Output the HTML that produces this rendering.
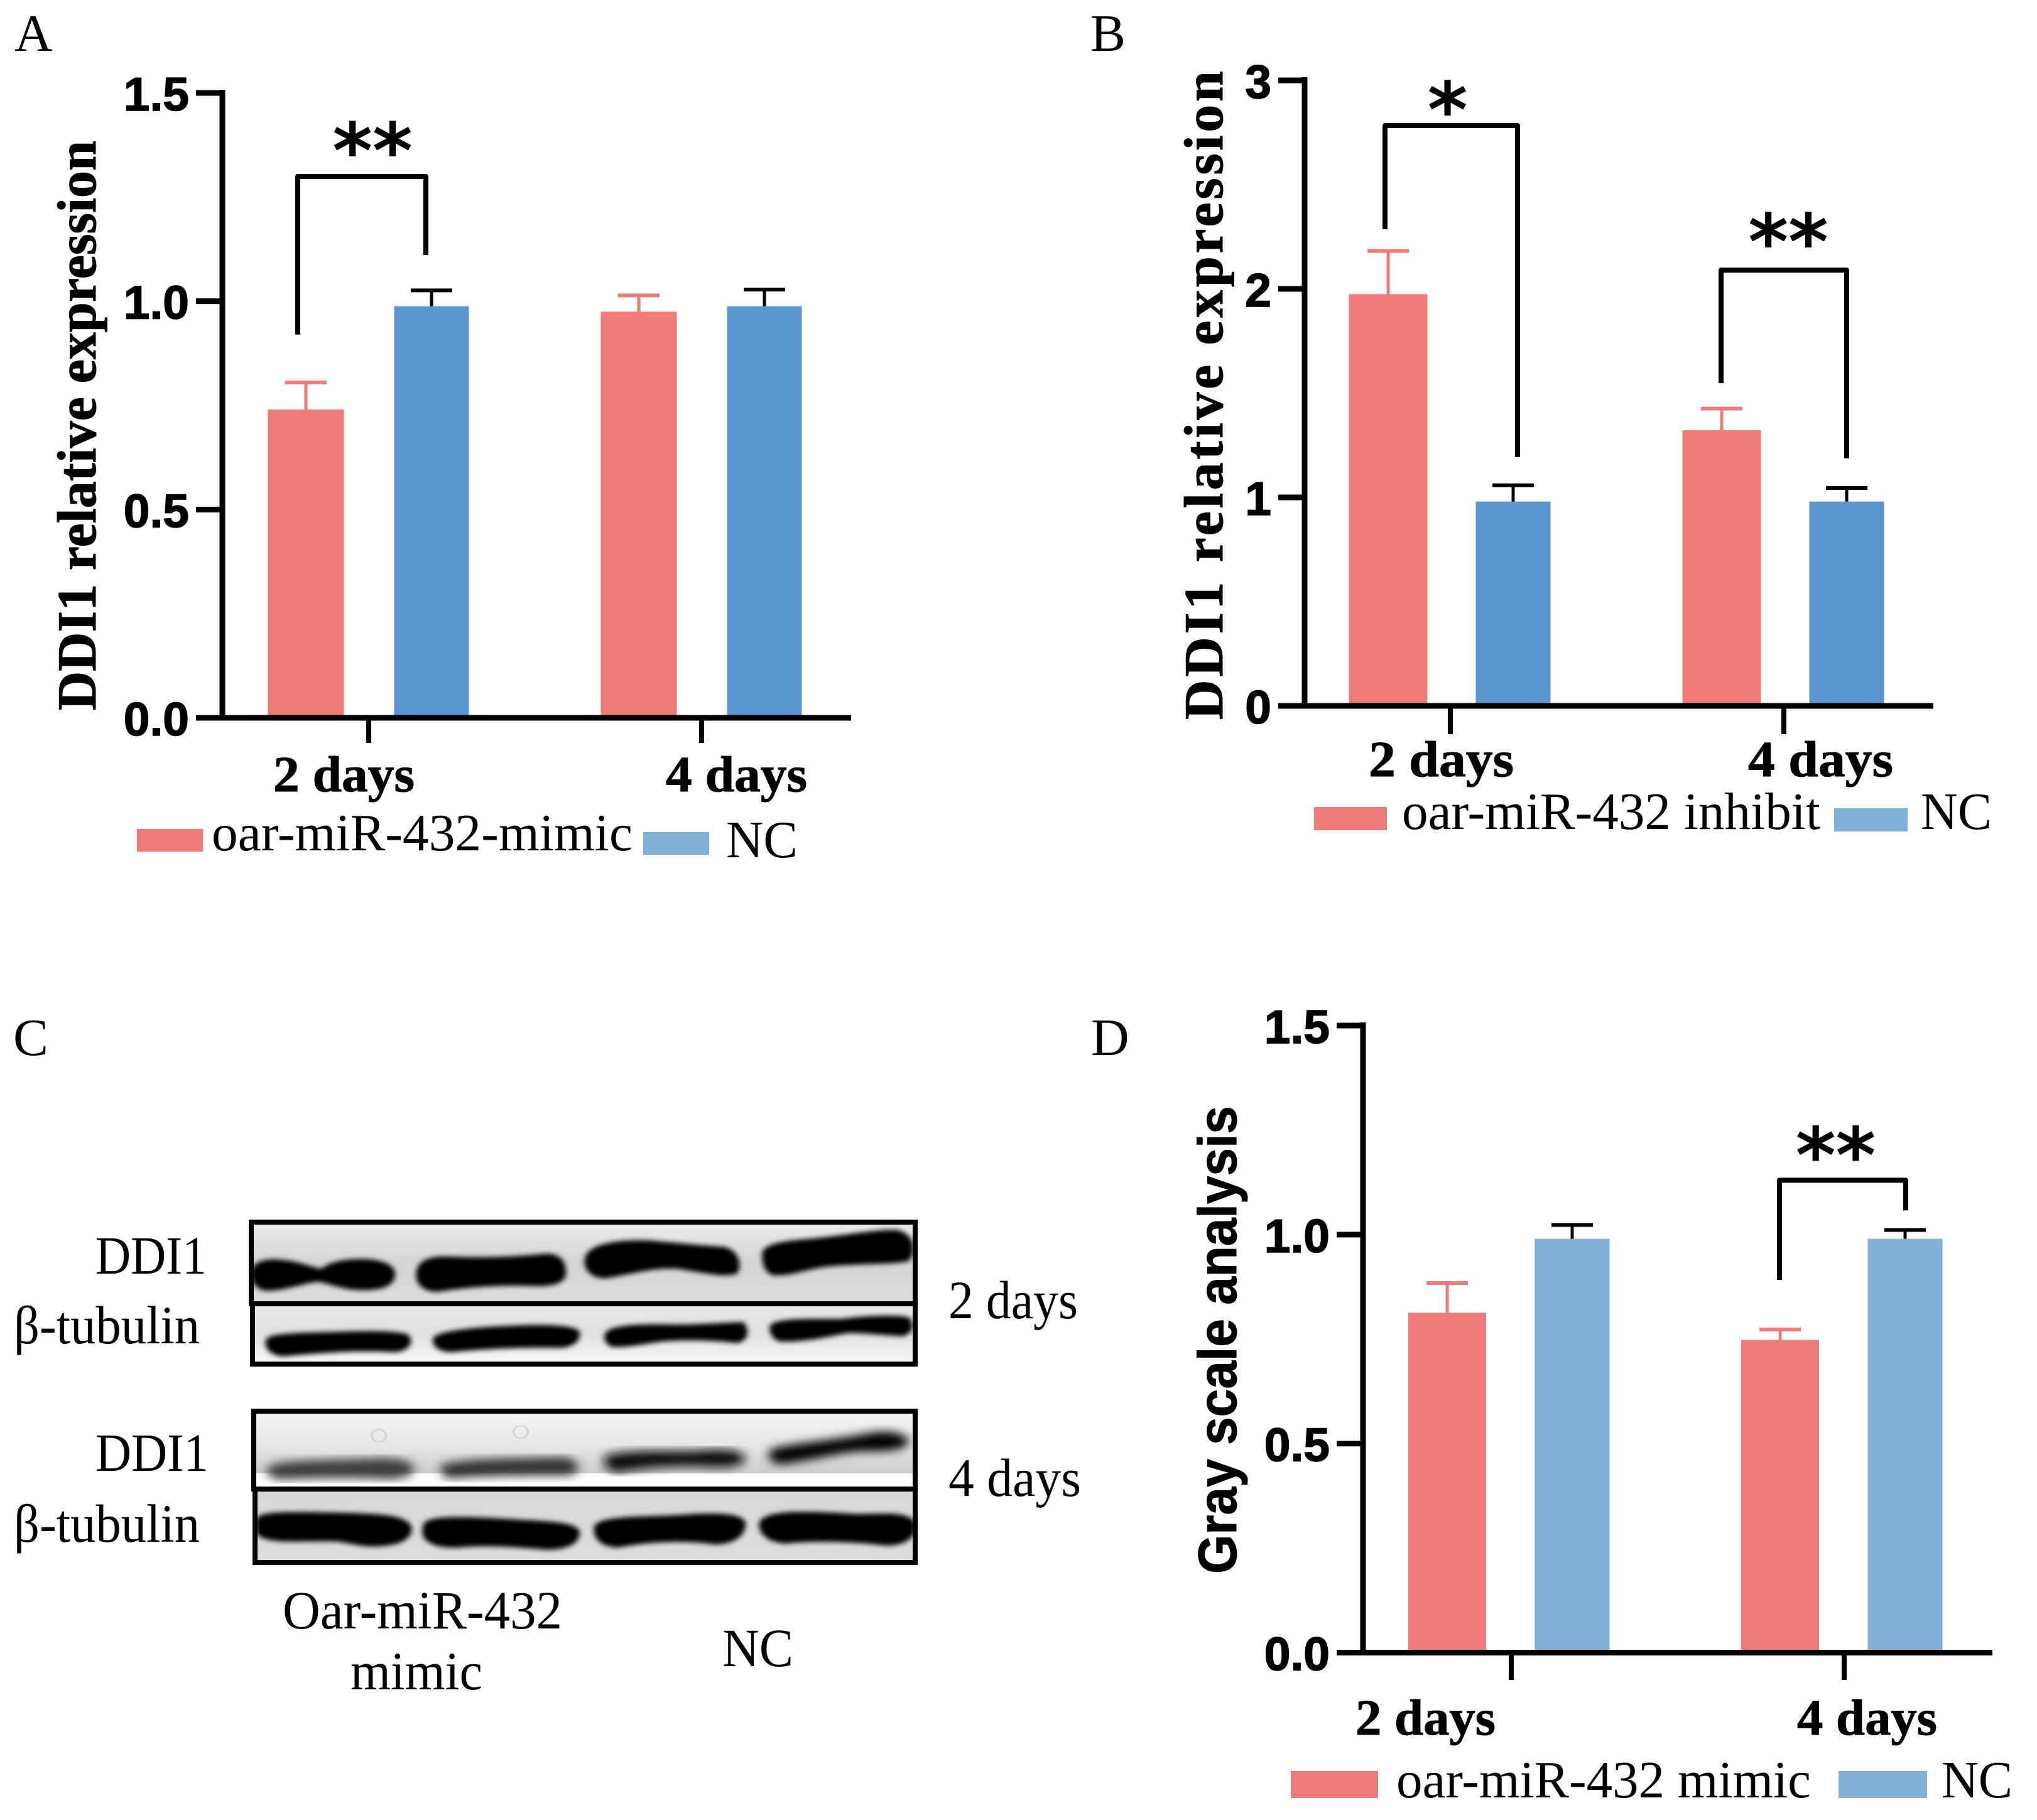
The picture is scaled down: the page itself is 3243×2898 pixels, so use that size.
<!DOCTYPE html>
<html lang="en">
<head>
<meta charset="utf-8">
<title>DDI1 expression figure</title>
<style>
html,body{margin:0;padding:0;background:#fff;}
svg{display:block;}
.serif{font-family:"Liberation Serif","Noto Serif CJK SC",serif;}
.sans{font-family:"Liberation Sans","Noto Sans CJK SC",sans-serif;}
.lab{font-size:86px;fill:#000;}
.leg{font-size:84px;fill:#000;}
.xl{font-family:"Liberation Serif",serif;font-weight:bold;font-size:80px;fill:#000;stroke:#000;stroke-width:1;}
.tit{font-family:"Liberation Serif",serif;font-weight:bold;font-size:88px;fill:#000;stroke:#000;stroke-width:1;}
.pl{font-family:"Liberation Serif",serif;font-size:84px;fill:#000;}
</style>
</head>
<body>
<svg id="figure" xmlns="http://www.w3.org/2000/svg" width="3243" height="2898" viewBox="0 0 3243 2898">
<defs>
<linearGradient id="g1" x1="0" y1="0" x2="0" y2="1"><stop offset="0" stop-color="#ececec"/><stop offset="0.5" stop-color="#d4d4d4"/><stop offset="1" stop-color="#dcdcdc"/></linearGradient>
<linearGradient id="g2" x1="0" y1="0" x2="0" y2="1"><stop offset="0" stop-color="#e8e8e8"/><stop offset="0.5" stop-color="#e0e0e0"/><stop offset="1" stop-color="#f8f8f8"/></linearGradient>
<linearGradient id="g3" x1="0" y1="0" x2="0" y2="1"><stop offset="0" stop-color="#f4f4f4"/><stop offset="0.45" stop-color="#e6e6e6"/><stop offset="0.8" stop-color="#cccccc"/><stop offset="0.8" stop-color="#fff"/><stop offset="1" stop-color="#fff"/></linearGradient>
<linearGradient id="g4" x1="0" y1="0" x2="0" y2="1"><stop offset="0" stop-color="#d8d8d8"/><stop offset="1" stop-color="#dcdcdc"/></linearGradient>
<filter id="blurA" x="-10%" y="-30%" width="120%" height="160%"><feGaussianBlur stdDeviation="6 12"/></filter>
<filter id="blurB" x="-10%" y="-30%" width="120%" height="160%"><feGaussianBlur stdDeviation="12 22"/></filter>
<clipPath id="c1"><rect x="400" y="1946" width="1057" height="130"/></clipPath>
<clipPath id="c2"><rect x="402" y="2076" width="1055" height="96"/></clipPath>
<clipPath id="c3"><rect x="404" y="2247" width="1053" height="124"/></clipPath>
<clipPath id="c4"><rect x="406" y="2371" width="1051" height="117"/></clipPath>
</defs>
<rect x="0" y="0" width="3243" height="2898" fill="#fff"/>

<g id="panel-a">
  <text class="pl" x="23" y="81">A</text>
  <text class="tit" transform="translate(152,1131) rotate(-90)" textLength="907" lengthAdjust="spacingAndGlyphs">DDI1 relative expression</text>
  <rect x="218" y="1320" width="105" height="36" fill="#EF7B79"/>
  <text class="serif leg" x="337" y="1354" textLength="670" lengthAdjust="spacingAndGlyphs">oar-miR-432-mimic</text>
  <rect x="1024" y="1325" width="105" height="36" fill="#7FB0D5"/>
  <text class="serif leg" x="1156" y="1365" textLength="114" lengthAdjust="spacingAndGlyphs">NC</text>
</g>

<g id="panel-b">
  <text class="pl" x="1736" y="81">B</text>
  <text class="tit" transform="translate(1946,1146) rotate(-90)" textLength="1033" lengthAdjust="spacing">DDI1 relative expression</text>
  <rect x="2092" y="1285" width="116" height="37" fill="#EF7B79"/>
  <text class="serif leg" x="2232" y="1320" textLength="666" lengthAdjust="spacingAndGlyphs">oar-miR-432 inhibit</text>
  <rect x="2920" y="1287" width="117" height="37" fill="#7FB0D5"/>
  <text class="serif leg" x="3058" y="1320" textLength="113" lengthAdjust="spacingAndGlyphs">NC</text>
</g>

<g id="panel-c">
  <text class="pl" x="21" y="1680">C</text>
  <g clip-path="url(#c1)">
    <rect x="400" y="1946" width="1057" height="130" fill="url(#g1)"/>
    <g transform="translate(380,1930) scale(.7015,.339)" filter="url(#blurA)" fill="#050303" stroke="#050303" stroke-width="14">
      <path d="M35,290 C35,240 60,225 90,230 C130,235 160,265 190,275 C210,240 240,225 290,228 C340,235 350,270 348,300 C345,345 320,360 280,360 C240,360 210,330 180,320 C140,330 100,365 60,362 C40,350 35,320 35,290 Z"/>
      <path d="M410,290 C410,240 430,215 470,215 C550,225 640,215 700,202 C730,205 738,250 735,300 C730,335 700,345 660,340 C590,335 520,345 450,368 C420,365 408,330 410,290Z"/>
      <path d="M792,225 C795,160 850,135 930,140 C990,150 1050,165 1100,170 C1130,190 1135,250 1125,285 C1100,300 1060,280 1000,260 C940,250 880,290 830,305 C800,300 790,260 792,225Z"/>
      <path d="M1195,190 C1200,150 1250,140 1310,130 C1380,115 1440,90 1490,90 C1530,105 1530,190 1515,225 C1480,240 1400,235 1330,250 C1280,265 1250,295 1215,290 C1195,270 1195,230 1195,190Z"/>
    </g>
  </g>
  <g clip-path="url(#c2)">
    <rect x="402" y="2076" width="1055" height="96" fill="url(#g2)"/>
    <g transform="translate(380,1930) scale(.7015,.339)" filter="url(#blurA)" fill="#050303" stroke="#050303" stroke-width="16">
      <path d="M70,600 C75,575 150,575 230,570 C290,565 350,565 378,580 C390,610 380,650 350,650 C280,640 200,650 100,670 C75,665 65,630 70,600Z"/>
      <path d="M450,590 C470,560 560,545 640,540 C700,535 750,540 765,560 C770,590 760,625 730,630 C640,625 560,635 480,650 C455,645 445,620 450,590Z"/>
      <path d="M840,570 C850,540 900,535 960,535 C1020,540 1080,530 1140,525 C1150,550 1150,595 1130,607 C1080,595 1020,590 960,600 C920,610 880,630 850,625 C838,610 835,590 840,570Z"/>
      <path d="M1215,530 C1240,505 1300,510 1370,510 C1420,495 1480,490 1515,500 C1525,530 1525,560 1505,575 C1460,570 1420,560 1380,560 C1330,580 1280,605 1230,600 C1215,585 1210,555 1215,530Z"/>
    </g>
  </g>
  <g clip-path="url(#c3)">
    <rect x="404" y="2247" width="1053" height="124" fill="url(#g3)"/>
    <g transform="translate(380,2230) scale(.7015,.3333)">
      <path d="M75,320 C100,290 200,295 300,285 C350,280 385,290 390,320 C390,355 370,370 330,368 C250,360 170,365 90,370 C70,355 70,335 75,320Z" fill="#3c3c3c" stroke="#3c3c3c" stroke-width="16" filter="url(#blurB)"/>
      <path d="M470,310 C520,285 650,285 740,280 C765,295 770,330 750,350 C660,350 560,350 480,365 C465,350 465,325 470,310Z" fill="#303030" stroke="#303030" stroke-width="16" filter="url(#blurB)"/>
      <path d="M840,270 C880,245 960,250 1040,250 C1080,240 1130,240 1140,270 C1140,300 1120,315 1080,310 C1000,300 920,310 860,335 C840,325 835,290 840,270Z" fill="#0a0a0a" stroke="#0a0a0a" stroke-width="18" filter="url(#blurB)"/>
      <path d="M1215,240 C1250,215 1330,205 1420,170 C1470,145 1510,160 1512,200 C1505,235 1460,235 1400,235 C1340,250 1270,290 1225,295 C1210,280 1210,255 1215,240Z" fill="#030303" stroke="#030303" stroke-width="18" filter="url(#blurB)"/>
      <ellipse cx="318" cy="168" rx="16" ry="30" fill="none" stroke="#d4d4d4" stroke-width="5"/>
      <ellipse cx="640" cy="150" rx="16" ry="30" fill="none" stroke="#d4d4d4" stroke-width="5"/>
    </g>
  </g>
  <g clip-path="url(#c4)">
    <rect x="406" y="2371" width="1051" height="117" fill="url(#g4)"/>
    <g transform="translate(380,2230) scale(.7015,.3333)" filter="url(#blurA)" fill="#050303" stroke="#050303" stroke-width="16">
      <path d="M50,560 C60,535 150,540 250,545 C320,550 380,555 385,610 C385,670 350,690 300,690 C260,685 250,665 200,665 C130,665 70,675 50,640 C45,610 45,580 50,560Z"/>
      <path d="M430,585 C450,555 540,565 620,575 C690,585 750,585 765,620 C770,680 740,705 700,705 C640,695 560,680 500,695 C450,700 425,670 425,630 C425,610 425,600 430,585Z"/>
      <path d="M815,600 C830,560 900,565 1000,555 C1060,545 1130,540 1142,580 C1145,640 1120,680 1080,680 C1020,660 930,665 860,695 C825,690 810,650 815,600Z"/>
      <path d="M1190,580 C1205,530 1290,535 1400,550 C1460,550 1520,535 1528,590 C1530,650 1510,685 1470,685 C1410,670 1320,660 1240,675 C1205,670 1185,630 1190,580Z"/>
    </g>
  </g>
  <g fill="none" stroke="#000">
    <rect x="400" y="1946" width="1057" height="130" stroke-width="8"/>
    <rect x="402" y="2076" width="1055" height="96" stroke-width="8"/>
    <rect x="404" y="2247" width="1053" height="124" stroke-width="8"/>
    <rect x="406" y="2371" width="1051" height="117" stroke-width="8"/>
  </g>
  <text class="serif lab" x="152" y="2028" textLength="177" lengthAdjust="spacingAndGlyphs">DDI1</text>
  <text class="serif lab" x="22" y="2139" textLength="296" lengthAdjust="spacingAndGlyphs">β-tubulin</text>
  <text class="serif lab" x="1510" y="2099" textLength="206" lengthAdjust="spacingAndGlyphs">2 days</text>
  <text class="serif lab" x="152" y="2342" textLength="180" lengthAdjust="spacingAndGlyphs">DDI1</text>
  <text class="serif lab" x="22" y="2455" textLength="296" lengthAdjust="spacingAndGlyphs">β-tubulin</text>
  <text class="serif lab" x="1510" y="2382" textLength="211" lengthAdjust="spacingAndGlyphs">4 days</text>
  <text class="serif lab" x="450" y="2593" textLength="445" lengthAdjust="spacingAndGlyphs">Oar-miR-432</text>
  <text class="serif lab" x="558" y="2690" textLength="210" lengthAdjust="spacingAndGlyphs">mimic</text>
  <text class="serif lab" x="1150" y="2653" textLength="113" lengthAdjust="spacingAndGlyphs">NC</text>
</g>

<g id="panel-d">
  <text class="pl" x="1737" y="1680">D</text>
  <text class="sans" font-weight="bold" font-size="86" fill="#000" stroke="#000" stroke-width="1" transform="translate(1968,2506) rotate(-90)" textLength="745" lengthAdjust="spacingAndGlyphs">Gray scale analysis</text>
  <rect x="2055" y="2820" width="139" height="43" fill="#EF7B79"/>
  <text class="serif leg" x="2223" y="2862" textLength="660" lengthAdjust="spacingAndGlyphs">oar-miR-432 mimic</text>
  <rect x="2927" y="2820" width="141" height="43" fill="#7FB0D5"/>
  <text class="serif leg" x="3091" y="2862" textLength="113" lengthAdjust="spacingAndGlyphs">NC</text>
</g>

<script>
// ---------- chart data ----------
const categories = ['2 days', '4 days'];

const panelAMimic = [0.74, 0.975];
const panelAMimicErrTop = [0.805, 1.014];
const panelANc = [0.988, 0.988];
const panelANcErrTop = [1.026, 1.028];
const panelATicks = [0, 0.5, 1, 1.5];
const panelATickLabels = ['0.0', '0.5', '1.0', '1.5'];

const panelBInhibit = [1.975, 1.322];
const panelBInhibitErrTop = [2.182, 1.426];
const panelBNc = [0.98, 0.98];
const panelBNcErrTop = [1.058, 1.045];
const panelBTicks = [0, 1, 2, 3];
const panelBTickLabels = ['0', '1', '2', '3'];

const panelDMimic = [0.813, 0.748];
const panelDMimicErrTop = [0.884, 0.773];
const panelDNc = [0.99, 0.99];
const panelDNcErrTop = [1.023, 1.011];
const panelDTicks = [0, 0.5, 1, 1.5];
const panelDTickLabels = ['0.0', '0.5', '1.0', '1.5'];

// ---------- drawing helpers ----------
const NS = 'http://www.w3.org/2000/svg';
const RED = '#EF7B79';
const BLUE_AB = '#5B95D0';
const BLUE_D = '#7FB0D5';

function shape(tag, attrs) {
  const el = document.createElementNS(NS, tag);
  for (const k in attrs) el.setAttribute(k, attrs[k]);
  return el;
}

function drawPanel(p) {
  const g = document.getElementById(p.id);
  const y = v => p.y0 - (v - p.domain[0]) / (p.domain[1] - p.domain[0]) * (p.y0 - p.y1);
  const groupX = i => p.groupCenters[0] + i * (p.groupCenters[1] - p.groupCenters[0]);

  p.series.forEach((s, si) => {
    s.values.forEach((v, i) => {
      const cx = groupX(i) + s.offset;
      const bar = shape('rect', {x: cx - s.width / 2, y: y(v), width: s.width, height: p.y0 - y(v), fill: s.color});
      
      
      g.appendChild(bar);

      const stem = shape('line', {x1: cx, x2: cx, y1: y(v), y2: y(s.errTop[i]), stroke: s.errColor, 'stroke-width': 5});
      
      
      g.appendChild(stem);

      const cap = shape('line', {x1: cx - 33, x2: cx + 33, y1: y(s.errTop[i]), y2: y(s.errTop[i]), stroke: s.errColor, 'stroke-width': 6});
      
      
      g.appendChild(cap);
    });
  });

  const yAxis = shape('line', {x1: p.axisX, x2: p.axisX, y1: y(p.domain[1]) - 5, y2: p.y0, stroke: '#000', 'stroke-width': 9});
  
  
  g.appendChild(yAxis);

  const xAxis = shape('line', {x1: p.axisX - 42, x2: p.axisEnd, y1: p.y0, y2: p.y0, stroke: '#000', 'stroke-width': 9});
  
  
  g.appendChild(xAxis);

  p.ticks.forEach((t, i) => {
    const tick = shape('line', {x1: p.axisX - 42, x2: p.axisX, y1: y(t), y2: y(t), stroke: '#000', 'stroke-width': 9});
    
    
    g.appendChild(tick);

    const lab = shape('text', {x: p.axisX - 53, y: y(t) + 28, 'text-anchor': 'end', 'font-family': '"Liberation Sans",sans-serif', 'font-weight': 'bold', 'font-size': 75, fill: '#000', stroke: '#000', 'stroke-width': 1.5});
    
    
    lab.textContent = p.tickLabels[i];
    g.appendChild(lab);
  });

  categories.forEach((c, i) => {
    const tick = shape('line', {x1: groupX(i), x2: groupX(i), y1: p.y0, y2: p.tickEnd, stroke: '#000', 'stroke-width': 8});
    
    
    g.appendChild(tick);

    const lab = shape('text', {x: groupX(i) + p.labelDx[i], y: p.labelY, 'class': 'xl', textLength: p.labelWidth, lengthAdjust: 'spacingAndGlyphs'});
    
    
    lab.textContent = c;
    g.appendChild(lab);
  });

  p.brackets.forEach(b => {
    const xL = groupX(b.group) + p.series[0].offset + b.dxL;
    const xR = groupX(b.group) + p.series[1].offset + b.dxR;
    const path = shape('path', {d: `M${xL},${y(b.leftEnd)} L${xL},${y(b.top)} L${xR},${y(b.top)} L${xR},${y(b.rightEnd)}`, fill: 'none', stroke: '#000', 'stroke-width': 8, 'stroke-linejoin': 'round'});
    
    
    g.appendChild(path);

    const star = shape('text', {x: (xL + xR) / 2 + b.starDx, y: y(b.top) - b.starLift + 60, 'text-anchor': 'middle', 'font-family': '"DejaVu Sans",sans-serif', 'font-weight': 'bold', 'font-size': 122, fill: '#000'});
    
    
    star.textContent = b.label;
    g.appendChild(star);
  });
}

drawPanel({
  id: 'panel-a', y0: 1143, y1: 148, domain: [0, 1.5], axisX: 354, axisEnd: 1355, tickEnd: 1183,
  ticks: panelATicks, tickLabels: panelATickLabels,
  groupCenters: [587, 1117], labelDx: [-152, -57], labelY: 1260, labelWidth: 225,
  series: [
    {values: panelAMimic, errTop: panelAMimicErrTop, color: RED, errColor: RED, offset: -100, width: 121},
    {values: panelANc, errTop: panelANcErrTop, color: BLUE_AB, errColor: '#000', offset: 100, width: 119}
  ],
  brackets: [{group: 0, top: 1.2995, leftEnd: 0.92, rightEnd: 1.111, label: '**', dxL: -13, dxR: -9, starDx: 17, starLift: 58}]
});

drawPanel({
  id: 'panel-b', y0: 1124, y1: 128, domain: [0, 3], axisX: 2077, axisEnd: 3078, tickEnd: 1169,
  ticks: panelBTicks, tickLabels: panelBTickLabels,
  groupCenters: [2309, 2840], labelDx: [-130, -57], labelY: 1236, labelWidth: 231,
  series: [
    {values: panelBInhibit, errTop: panelBInhibitErrTop, color: RED, errColor: RED, offset: -99, width: 125},
    {values: panelBNc, errTop: panelBNcErrTop, color: BLUE_AB, errColor: '#000', offset: 100, width: 119}
  ],
  brackets: [
    {group: 0, top: 2.783, leftEnd: 2.286, rightEnd: 1.193, label: '*', dxL: -5, dxR: 7, starDx: -6, starLift: 42},
    {group: 1, top: 2.09, leftEnd: 1.548, rightEnd: 1.187, label: '**', dxL: -1, dxR: 0, starDx: 7, starLift: 62}
  ]
});

drawPanel({
  id: 'panel-d', y0: 2631.5, y1: 1633, domain: [0, 1.5], axisX: 2170, axisEnd: 3172, tickEnd: 2675,
  ticks: panelDTicks, tickLabels: panelDTickLabels,
  groupCenters: [2406, 2936], labelDx: [-248, -75], labelY: 2762, labelWidth: 223,
  series: [
    {values: panelDMimic, errTop: panelDMimicErrTop, color: RED, errColor: RED, offset: -102, width: 124},
    {values: panelDNc, errTop: panelDNcErrTop, color: BLUE_D, errColor: '#000', offset: 97, width: 119}
  ],
  brackets: [{group: 1, top: 1.13, leftEnd: 0.8915, rightEnd: 1.058, label: '**', dxL: -1, dxR: 1, starDx: -11, starLift: 57}]
});
</script>
</svg>
</body>
</html>
